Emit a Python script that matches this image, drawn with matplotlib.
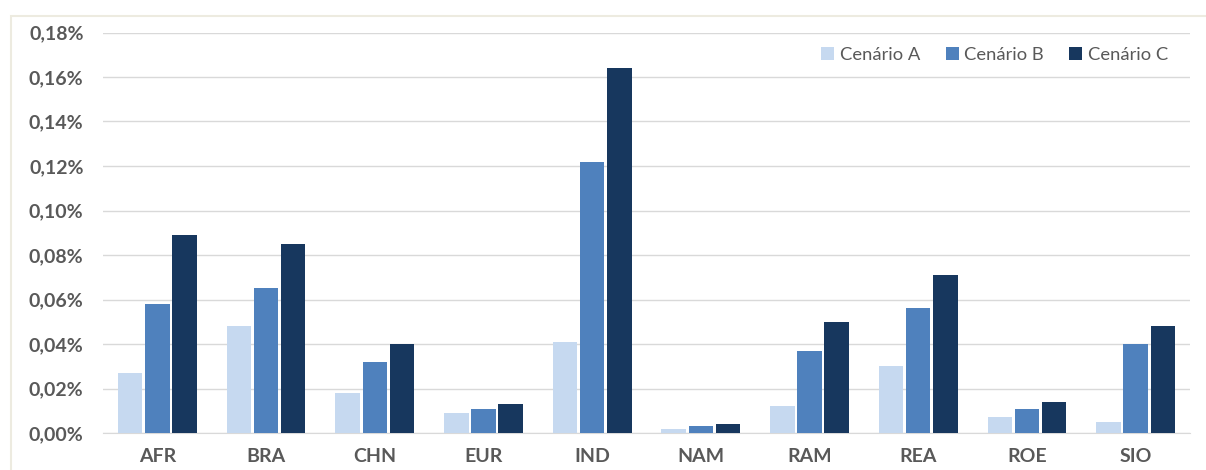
import numpy as np
import matplotlib.pyplot as plt
from matplotlib.patches import Rectangle
from matplotlib.ticker import FuncFormatter

regions = ["AFR", "BRA", "CHN", "EUR", "IND", "NAM", "RAM", "REA", "ROE", "SIO"]
cen_a = [0.027, 0.048, 0.018, 0.009, 0.041, 0.002, 0.012, 0.030, 0.007, 0.005]
cen_b = [0.058, 0.065, 0.032, 0.011, 0.122, 0.003, 0.037, 0.056, 0.011, 0.040]
cen_c = [0.089, 0.085, 0.040, 0.013, 0.164, 0.004, 0.050, 0.071, 0.014, 0.048]
labels = ["Cenário A", "Cenário B", "Cenário C"]
colors = ["#C6D9F0", "#4F81BD", "#17375E"]

plt.rcParams['font.family'] = ['Lato', 'DejaVu Sans']
txt = "#595959"

fig = plt.figure(figsize=(12.06, 4.70), dpi=100)
ax = fig.add_axes([103/1206, 1 - 433/470, (1190-103)/1206, (433-32.5)/470])

# moldura externa
fig.patches.append(Rectangle((11/1206, -0.1), 1.2, 1 - 16/470 + 0.1, transform=fig.transFigure,
                             fill=False, edgecolor="#EDEBE0", linewidth=1.5))

x = np.arange(len(regions))
w = 0.225
step = 0.25
for i, (vals, lab, col) in enumerate(zip([cen_a, cen_b, cen_c], labels, colors)):
    ax.bar(x + (i - 1) * step, vals, width=w, color=col, label=lab, zorder=3)

ax.set_xlim(-0.5, len(regions) - 0.5)
ax.set_ylim(0, 0.18)
ax.set_yticks(np.arange(0, 0.181, 0.02))
ax.yaxis.set_major_formatter(FuncFormatter(lambda v, p: f"{v:.2f}%".replace(".", ",")))
ax.set_xticks(x)
ax.set_xticklabels(regions)
ax.grid(axis="y", color="#D9D9D9", linewidth=1, zorder=0)
for s in ["top", "right", "left"]:
    ax.spines[s].set_visible(False)
ax.spines["bottom"].set_color("#D9D9D9")
ax.tick_params(length=0, colors=txt, labelsize=14)
ax.tick_params(axis="y", pad=14)
ax.tick_params(axis="x", pad=11)
for t in ax.get_xticklabels() + ax.get_yticklabels():
    t.set_fontweight("bold")

leg = ax.legend(loc="upper right", bbox_to_anchor=(0.995, 1.005), ncol=3, frameon=False,
                fontsize=13.2, handlelength=0.7, handleheight=0.7, handletextpad=0.3,
                columnspacing=1.4, labelcolor=txt)

fig.savefig("out.png", dpi=100)
